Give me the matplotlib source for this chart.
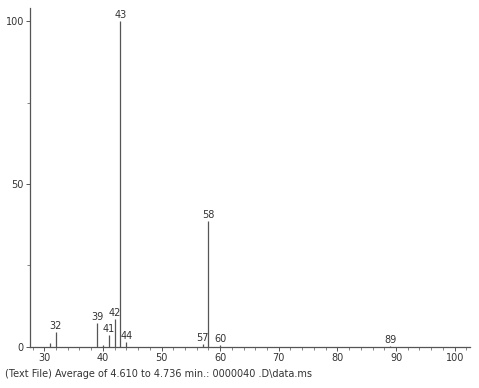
import matplotlib

matplotlib.use("Agg")
import matplotlib.pyplot as plt  # noqa: E402
from matplotlib.ticker import MultipleLocator  # noqa: E402

# m/z peaks and relative abundance (%)
mz = [31, 32, 39, 40, 41, 42, 43, 44, 57, 58, 60, 89]
abundance = [1.2, 4.6, 7.2, 0.6, 3.6, 8.5, 100, 1.4, 0.9, 38.5, 0.5, 0.3]
labeled = [32, 39, 41, 42, 43, 44, 57, 58, 60, 89]
footer = "(Text File) Average of 4.610 to 4.736 min.: 0000040 .D\\data.ms"

grey = "#555555"
fig = plt.figure(figsize=(4.79, 3.88), dpi=100)
ax = fig.add_axes([0.063, 0.106, 0.918, 0.873])

ax.vlines(mz, 0, abundance, color=grey, linewidth=0.9)
for m, a in zip(mz, abundance):
    if m in labeled:
        ax.text(m, a + 0.4, str(m), ha="center", va="bottom",
                fontsize=7, color="#333333")

ax.set_xlim(27.6, 102.6)
ax.set_ylim(0, 104)
ax.xaxis.set_major_locator(MultipleLocator(10))
ax.xaxis.set_minor_locator(MultipleLocator(2))
ax.yaxis.set_major_locator(MultipleLocator(50))
ax.yaxis.set_minor_locator(MultipleLocator(25))
for s in ("top", "right"):
    ax.spines[s].set_visible(False)
for s in ("left", "bottom"):
    ax.spines[s].set_color(grey)
    ax.spines[s].set_linewidth(0.9)
ax.tick_params(which="major", length=3, width=0.7, color=grey,
               labelsize=7, labelcolor="#333333", pad=1.5)
ax.tick_params(which="minor", length=2, width=0.5, color=grey)

fig.text(0.01, 0.035, footer, fontsize=7, color="#333333", ha="left",
         va="center")

fig.savefig("out.png", dpi=100)
plt.close(fig)
